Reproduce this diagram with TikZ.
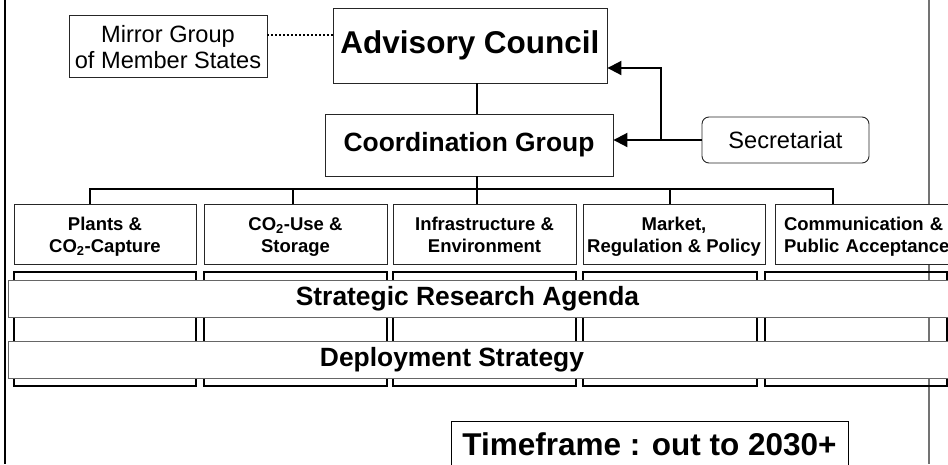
\documentclass[tikz,border=0pt]{standalone}
\usepackage{fontspec}
\setmainfont{Liberation Sans}
\usetikzlibrary{arrows.meta}

\begin{document}
\begin{tikzpicture}[x=1pt,y=-1pt,
    box/.style={draw=black!85,line width=0.9pt,fill=white,inner sep=0pt,align=center},
    big/.style={font=\fontsize{31.5}{36}\selectfont\bfseries},
    mid/.style={font=\fontsize{26.4}{30}\selectfont\bfseries},
    small/.style={font=\fontsize{23.6}{26}\selectfont},
    topicbox/.style={box,minimum height=60pt,text height=42pt,text depth=6pt,font=\fontsize{18.5}{22}\selectfont\bfseries},
    link/.style={line width=2pt},
    feed/.style={link,-{Triangle[length=14pt,width=14pt]}},
    dots/.style={line width=2pt,dash pattern=on 2pt off 2pt},
    column/.style={line width=2pt},
    bar/.style={draw=black!60,line width=1pt,fill=white}]
    \useasboundingbox (0,0) rectangle (948,464);
    \clip (0,0) rectangle (948,464);
    \draw[black!55,line width=1.2pt] (929,0) -- (929,464);
    \draw[line width=2.5pt] (5,0) -- (5,464);

    \node[box,small,minimum width=198pt,minimum height=62pt,text height=51pt,text depth=7pt] (mirror) at (168,46) {Mirror Group\\of Member States};
    \node[box,big,minimum width=274pt,minimum height=75pt] (council) at (470,45.5) {Advisory Council};
    \node[box,mid,minimum width=288pt,minimum height=62pt] (coord) at (469,145) {Coordination Group};
    \node[box,small,rounded corners=7pt,minimum width=167pt,minimum height=46pt] (secr) at (785.5,140) {Secretariat};

    \node[topicbox,minimum width=182pt] (p1) at (105,234) {Plants \&\\CO\textsubscript{2}-Capture};
    \node[topicbox,minimum width=183pt] (p2) at (295.5,234) {CO\textsubscript{2}-Use \&\\Storage};
    \node[topicbox,minimum width=183pt] (p3) at (484.5,234) {Infrastructure \&\\Environment};
    \node[topicbox,minimum width=182pt] (p4) at (674,234) {Market,\\Regulation \& Policy};
    \node[topicbox,minimum width=195pt,text width=177pt,inner xsep=9pt,align=left,text height=13pt,text depth=21pt] (p5) at (872.5,234) {Communication \&\\Public Acceptance};

    \foreach \xa/\xb in {14/196,204/387,393/576,583/757,765/947}
        \draw[column] (\xa,272) rectangle (\xb,386);
    \draw[bar] (8,280) rectangle (990,317);
    \node[mid] (sra) at (467.5,298.5) {Strategic Research Agenda};
    \draw[bar] (8,341) rectangle (990,378);
    \node[mid] (deploy) at (452,359.5) {Deployment Strategy};

    \node[box,big,draw=black,minimum width=397pt,minimum height=46pt] (time) at (649.5,444) {Timeframe : out to 2030+};

    \coordinate (d1) at (90,189);
    \coordinate (d2) at (293,189);
    \coordinate (d3) at (477,189);
    \coordinate (d4) at (670,189);
    \coordinate (d5) at (833,189);
    \coordinate (sbend) at (661,140);

    \draw[dots] ([yshift=11pt]mirror.east) -- ([yshift=11pt]mirror.east -| council.west);
    \draw[link] (council.south -| d3) -- (coord.north -| d3);
    \draw[link] (coord.south -| d3) -- (d3);
    \draw[link] (p1.north -| d1) -- (d1) -- (d5) -- (p5.north -| d5);
    \foreach \i in {2,3,4}
        \draw[link] (d\i) -- (p\i.north -| d\i);
    \draw[feed] (secr.west) -- (coord.east |- secr.west);
    \draw[feed] (sbend) |- ([yshift=-22.5pt]council.east);
\end{tikzpicture}
\end{document}
